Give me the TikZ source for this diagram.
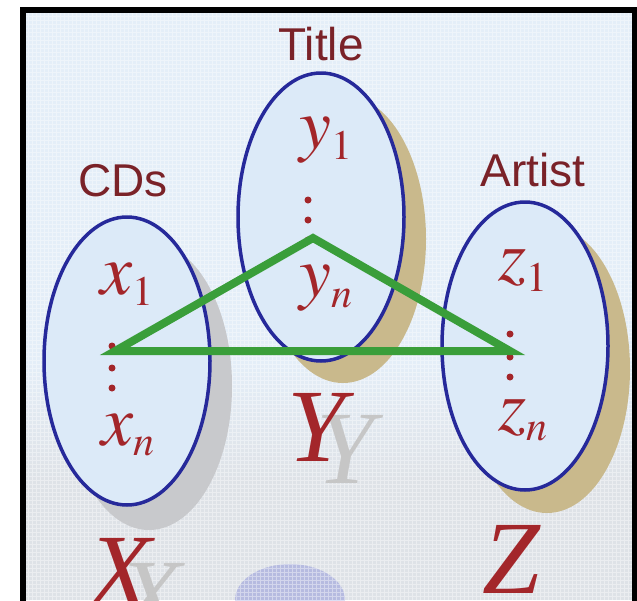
\documentclass[tikz,border=0pt]{standalone}
\usepackage{mathptmx}
\usepackage{fontspec}
\setmainfont{Liberation Serif}
\setsansfont{Liberation Sans}
\usepackage{xcolor}
\usepackage{tikz}
\usetikzlibrary{shapes,positioning}
\DeclareMathSizes{72}{72}{42}{32}

\definecolor{setblue}{HTML}{26299A}
\definecolor{setfill}{HTML}{DCEAF8}
\definecolor{labred}{HTML}{7A2228}
\definecolor{elred}{HTML}{A3262A}
\definecolor{shadetan}{HTML}{C9B98C}
\definecolor{shadegray}{HTML}{C8C9CC}
\definecolor{linkgreen}{HTML}{3A9E3A}
\definecolor{backblue}{HTML}{E4EEF8}
\definecolor{backgray}{HTML}{DEE2E7}
\definecolor{blobblue}{HTML}{8F95DA}

\tikzset{
  setel/.style={ellipse,draw=setblue,fill=setfill,line width=3.5pt,
    minimum width=166pt,minimum height=288pt,inner sep=0pt},
  setshadow/.style={ellipse,fill=#1,minimum width=166pt,minimum height=288pt,inner sep=0pt},
  caption/.style={text=labred,font=\sffamily\fontsize{46}{46}\selectfont},
  element/.style={text=elred,font=\fontsize{72}{72}\selectfont},
  bigletter/.style={text=#1,font=\fontsize{104}{104}\selectfont\itshape,inner sep=0pt},
  elemdot/.style={circle,fill=elred,inner sep=0pt,minimum size=7pt},
}

\begin{document}
\begin{tikzpicture}[x=1pt,y=-1pt]
\useasboundingbox(0,0)rectangle(637,600);
\clip(0,0)rectangle(637,600);
\fill[white](0,0)rectangle(637,600);
% background
\fill[backblue](23,10)rectangle(634,600);
\shade[top color=backblue,bottom color=backgray](23,360)rectangle(634,480);
\fill[backgray](23,480)rectangle(634,600);
\fill[blobblue,opacity=.5](290,600)ellipse(55 and 36);
\draw[white,opacity=.4,line width=.5pt,step=4pt](23,10)grid(634,600);
% sets
\node[setshadow=shadegray](cdsshadow)at(149,386){};
\node[setel](cds)at(127,361){};
\node[setshadow=shadetan](titleshadow)at(343,239){};
\node[setel](title)at(321,217){};
\node[setshadow=shadetan](artistshadow)at(547,369){};
\node[setel](artist)at(525,346){};
\node[caption](cdscap)at(123,181){CDs};
\node[caption](titlecap)at(321,44){Title};
\node[caption](artistcap)at(533,170){Artist};
% elements
\node[element](x1)at(127,284){$x_1$};
\node[element](xn)at(128,435){$x_n$};
\node[element](y1)at(326,140){$y_1$};
\node[element](yn)at(326,288){$y_n$};
\node[element](z1)at(523,270){$z_1$};
\node[element](zn)at(523,420){$z_n$};
\node[elemdot]at(112,346){};
\node[elemdot]at(112,368){};
\node[elemdot]at(112,388){};
\node[elemdot]at(308,200){};
\node[elemdot]at(308,220){};
\node[elemdot]at(308,240){};
\node[elemdot]at(510,334){};
\node[elemdot]at(510,357){};
\node[elemdot]at(510,377){};
% tuple
\coordinate(tl)at(115,351);
\coordinate(tt)at(313,238);
\coordinate(tr)at(510,351);
\draw[linkgreen,line width=8pt](tl)--(tt)--(tr)--cycle;
% set names
\node[bigletter=gray!45](Yshadow)at(345,449){Y};
\node[bigletter=elred](Y)at(316,427){Y};
\node[bigletter=gray!45](Xshadow)at(150,597){X};
\node[bigletter=elred](X)at(120,572){X};
\node[bigletter=elred](Z)at(511,559){Z};
\draw[line width=6pt](23,10)rectangle(634.5,640);
\end{tikzpicture}
\end{document}
